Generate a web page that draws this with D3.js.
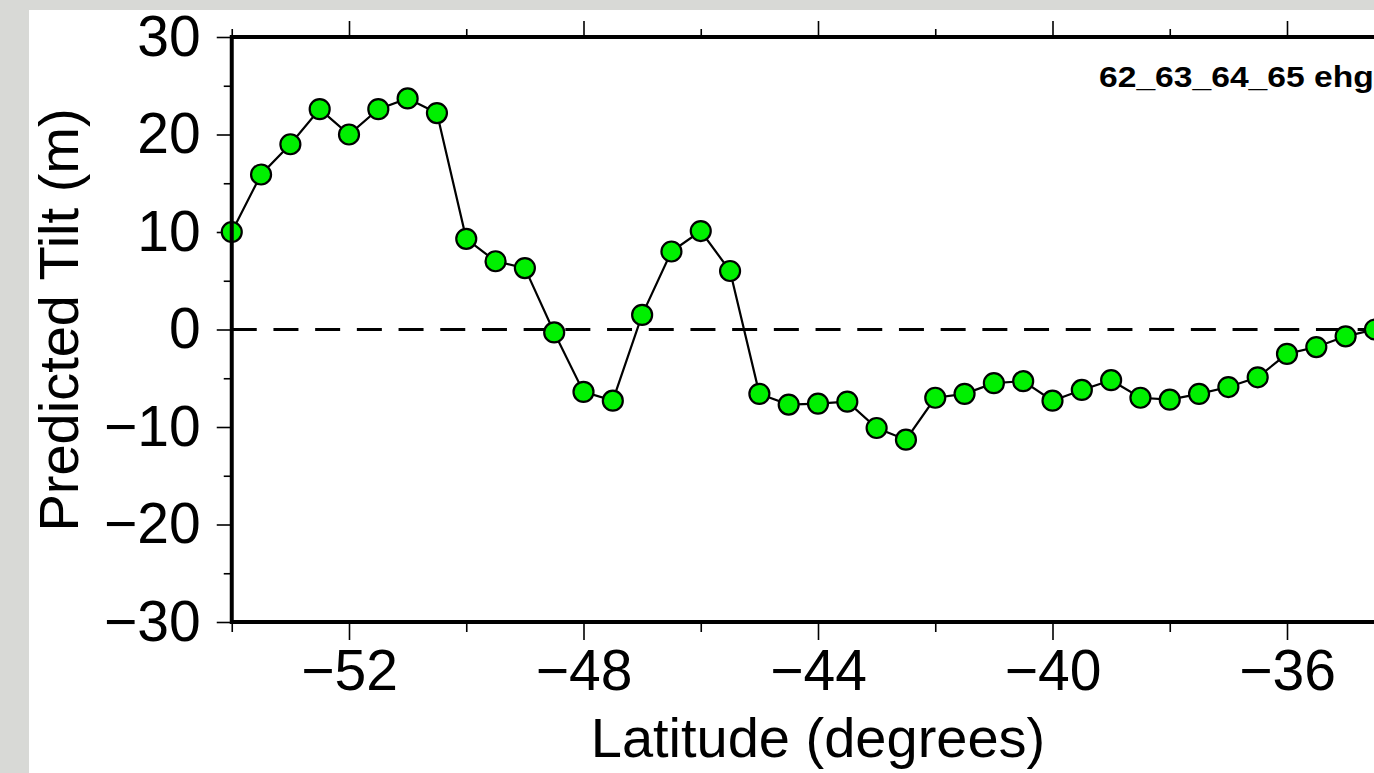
<!DOCTYPE html>
<html><head><meta charset="utf-8">
<script src="https://cdn.jsdelivr.net/npm/d3@7"></script>
<style>html,body{margin:0;padding:0;background:#d8d9d6;overflow:hidden}</style>
</head><body>
<script>
const latitudes = [-54,-53.5,-53,-52.5,-52,-51.5,-51,-50.5,-50,-49.5,-49,-48.5,-48,-47.5,-47,-46.5,-46,-45.5,-45,-44.5,-44,-43.5,-43,-42.5,-42,-41.5,-41,-40.5,-40,-39.5,-39,-38.5,-38,-37.5,-37,-36.5,-36,-35.5,-35,-34.5];
const tilt = [10.0,15.9,19.0,22.6,20.0,22.6,23.7,22.2,9.3,7.0,6.3,-0.3,-6.4,-7.3,1.5,8.0,10.1,6.0,-6.6,-7.7,-7.6,-7.4,-10.1,-11.3,-7.0,-6.6,-5.5,-5.3,-7.3,-6.2,-5.2,-7.0,-7.2,-6.6,-5.9,-4.9,-2.5,-1.8,-0.7,0.0];
const xMajorTicks = [-52,-48,-44,-40,-36];
const xMinorTicks = [-54,-50,-46,-42,-38];
const yMajorTicks = [-30,-20,-10,0,10,20,30];
const yMinorTicks = [-25,-15,-5,5,15,25];
const xLabel = "Latitude (degrees)";
const yLabel = "Predicted Tilt (m)";
const panelLabel = "62_63_64_65 ehg";

(function(){
const W = 1374, H = 773;
const svg = d3.select("body").append("svg").attr("width", W).attr("height", H)
  .style("font-family", "'Liberation Sans', Arial, Helvetica, sans-serif");

svg.append("rect").attr("x",0).attr("y",0).attr("width",W).attr("height",H).attr("fill","#d8d9d6");
svg.append("rect").attr("x",29).attr("y",10).attr("width",W-29).attr("height",H-10).attr("fill","#fff");

const pLeft = 231.75, pTop = 37, pBottom = 622;
const pxPerDeg = 58.625;
const x = d3.scaleLinear().domain([-54, -30]).range([pLeft, pLeft + 24*pxPerDeg]);
const y = d3.scaleLinear().domain([-30, 30]).range([pBottom, pTop]);

const fmt = d3.format("d");
const tickFont = 57;

const gL = svg.append("g").attr("transform", `translate(${pLeft},0)`);
gL.call(d3.axisLeft(y).tickValues(yMajorTicks).tickSize(15).tickPadding(16).tickFormat(fmt));
gL.append("g").call(d3.axisLeft(y).tickValues(yMinorTicks).tickSize(8).tickFormat(""));
const gB = svg.append("g").attr("transform", `translate(0,${pBottom})`);
gB.call(d3.axisBottom(x).tickValues(xMajorTicks).tickSize(18).tickPadding(10).tickFormat(fmt));
gB.append("g").call(d3.axisBottom(x).tickValues(xMinorTicks).tickSize(10).tickFormat(""));
const gT = svg.append("g").attr("transform", `translate(0,${pTop})`);
gT.call(d3.axisTop(x).tickValues(xMajorTicks).tickSize(16).tickFormat(""));
gT.append("g").call(d3.axisTop(x).tickValues(xMinorTicks).tickSize(8).tickFormat(""));

svg.selectAll(".domain").remove();
svg.selectAll(".tick line").attr("stroke","#000").attr("stroke-width",1.6);
svg.selectAll(".tick text").attr("fill","#000").style("font-size", tickFont+"px")
  .style("font-family","'Liberation Sans', Arial, sans-serif");

svg.append("line").attr("x1", x(-54)).attr("x2", W).attr("y1", y(0)).attr("y2", y(0))
  .attr("stroke","#000").attr("stroke-width",3).attr("stroke-dasharray","25,16.7");

const line = d3.line().x((d,i)=>x(latitudes[i])).y(d=>y(d));
svg.append("path").datum(tilt).attr("d", line).attr("fill","none")
  .attr("stroke","#000").attr("stroke-width",2.2);

svg.selectAll("circle.pt").data(tilt).join("circle").attr("class","pt")
  .attr("cx",(d,i)=>x(latitudes[i])).attr("cy",d=>y(d)).attr("r",10)
  .attr("fill","#00f000").attr("stroke","#000").attr("stroke-width",2.2);

svg.append("line").attr("x1",pLeft).attr("x2",pLeft).attr("y1",pTop-2).attr("y2",pBottom+2)
  .attr("stroke","#000").attr("stroke-width",4);
svg.append("line").attr("x1",pLeft).attr("x2",W).attr("y1",pTop).attr("y2",pTop)
  .attr("stroke","#000").attr("stroke-width",4);
svg.append("line").attr("x1",pLeft).attr("x2",W).attr("y1",pBottom).attr("y2",pBottom)
  .attr("stroke","#000").attr("stroke-width",4);

svg.append("text").attr("transform","translate(1099,87) scale(1.16,1)").text(panelLabel)
  .style("font-size","29px").style("font-weight","bold").attr("fill","#000");

svg.append("text").attr("x", 818).attr("y", 757).attr("text-anchor","middle")
  .style("font-size","56px").attr("fill","#000").text(xLabel);
svg.append("text").attr("transform","translate(78,320) rotate(-90)").attr("text-anchor","middle")
  .style("font-size","56px").attr("fill","#000").text(yLabel);
})();
</script>
</body></html>
